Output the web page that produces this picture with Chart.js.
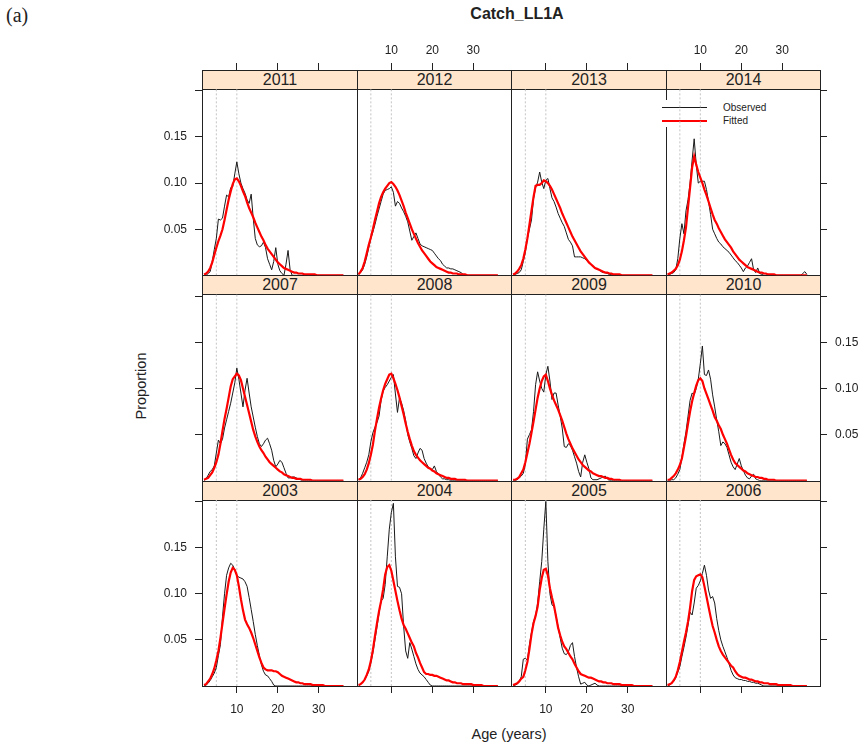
<!DOCTYPE html>
<html>
<head>
<meta charset="utf-8">
<title>Catch_LL1A</title>
<script src="https://cdn.jsdelivr.net/npm/chart.js@4.4.1/dist/chart.umd.min.js"></script>
<style>
  body { margin: 0; background: #fff; font-family: "Liberation Sans", Arial, sans-serif; color: #222; }
  #wrap { position: relative; width: 863px; height: 751px; overflow: hidden; }
  #deco { position: absolute; left: 0; top: 0; width: 863px; height: 751px; z-index: 1; }
  #lattice { position: absolute; left: 0; top: 0; z-index: 2; }
  .frame { position: absolute; box-sizing: border-box; border: 1px solid #222; }
  .strip { position: absolute; box-sizing: border-box; border: 1px solid #222; background: #ffe5cc;
           font-size: 16px; line-height: 18px; text-align: center; color: #222; }
  .txt { position: absolute; white-space: nowrap; }
  .legend { position: absolute; left: 658px; top: 100px; width: 110px; height: 27px; background: #fff; }
  .legend .key { position: absolute; left: 4px; width: 45px; }
  .legend .lab { position: absolute; left: 65px; font-size: 10px; line-height: 12px; color: #222; }
</style>
</head>
<body>
<div id="wrap">
  <div id="deco"></div>
  <canvas id="lattice" width="863" height="751"></canvas>
</div>
<script>
// ages (years), half-year steps
var ages = [2,2.5,3,3.5,4,4.5,5,5.5,6,6.5,7,7.5,8,8.5,9,9.5,10,10.5,11,11.5,12,12.5,13,13.5,14,14.5,15,15.5,16,16.5,17,17.5,18,18.5,19,19.5,20,20.5,21,21.5,22,22.5,23,23.5,24,24.5,25,25.5,26,26.5,27,27.5,28,28.5,29,29.5,30,30.5,31,31.5,32,32.5,33,33.5,34,34.5,35,35.5,36];

// panel layout, top row first (as in the lattice plot)
var yearRows = [
    ['2011', '2012', '2013', '2014'],
    ['2007', '2008', '2009', '2010'],
    ['2003', '2004', '2005', '2006']
];

var xTickValues = [10, 20, 30];
var yTickValues = [0.05, 0.10, 0.15, 0.20];
var refAges = [5, 10];

// observed proportions
var obs2011 = [0,0,0.002,0.004,0.015,0.028,0.040,0.061,0.060,0.062, 0.075,0.087,0.085,0.095,0.096,0.110,0.123,0.110,0.100,0.094, 0.089,0.082,0.078,0.088,0.062,0.040,0.033,0.031,0.032,0.036, 0.030,0.018,0.012,0.006,0.015,0.030,0.012,0.005,0.002,0, 0.012,0.027,0.006,0,0,0,0,0,0,0, 0,0,0,0,0,0,0,0,0,0, 0,0,0,0,0,0,0,0,0];
var obs2012 = [0.001,0.003,0.006,0.012,0.020,0.030,0.040,0.047,0.055,0.064, 0.072,0.080,0.088,0.092,0.093,0.094,0.096,0.090,0.075,0.080, 0.078,0.073,0.069,0.064,0.058,0.048,0.038,0.042,0.046,0.040, 0.034,0.032,0.031,0.030,0.029,0.028,0.027,0.024,0.021,0.018, 0.016,0.012,0.010,0.008,0.008,0.007,0.007,0.006,0.005,0.004, 0.003,0.001,0,0,0,0,0,0,0,0, 0,0,0,0,0,0,0,0,0];
var obs2013 = [0,0.001,0.002,0.003,0.006,0.015,0.025,0.040,0.050,0.060, 0.083,0.095,0.101,0.112,0.101,0.094,0.103,0.105,0.094,0.084, 0.080,0.074,0.067,0.062,0.057,0.053,0.046,0.039,0.036,0.032, 0.020,0.020,0.020,0.020,0.019,0.018,0.016,0.014,0.012,0.010, 0.008,0.007,0.006,0.004,0.003,0.003,0.002,0.001,0.001,0, 0,0,0,0,0,0,0,0,0,0, 0,0,0,0,0,0,0,0,0];
var obs2014 = [0,0.001,0.002,0.003,0.006,0.018,0.040,0.056,0.045,0.070, 0.082,0.100,0.125,0.148,0.120,0.100,0.102,0.102,0.102,0.093, 0.080,0.066,0.050,0.045,0.040,0.036,0.034,0.031,0.029,0.027, 0.025,0.022,0.019,0.016,0.014,0.011,0.008,0.004,0.008,0.010, 0.014,0.018,0.006,0.003,0.008,0.002,0.001,0,0,0, 0,0,0,0,0,0,0,0,0,0, 0,0,0,0,0,0,0.002,0.004,0.001];
var obs2007 = [0,0.002,0.006,0.010,0.012,0.016,0.030,0.044,0.040,0.045, 0.057,0.066,0.075,0.084,0.095,0.106,0.122,0.110,0.095,0.080, 0.098,0.111,0.095,0.080,0.069,0.058,0.048,0.040,0.037,0.040, 0.044,0.046,0.040,0.033,0.022,0.015,0.018,0.022,0.020,0.014, 0.008,0.003,0.003,0.004,0.004,0.003,0.002,0.001,0,0, 0,0,0,0,0,0,0,0,0,0, 0,0,0,0,0,0,0,0,0];
var obs2008 = [0.001,0.003,0.008,0.014,0.020,0.028,0.042,0.052,0.058,0.063, 0.070,0.087,0.097,0.101,0.104,0.108,0.112,0.115,0.094,0.074, 0.090,0.084,0.076,0.065,0.050,0.042,0.035,0.027,0.024,0.030, 0.035,0.033,0.024,0.019,0.015,0.013,0.012,0.016,0.010,0.007, 0.004,0.002,0.002,0.001,0.001,0,0,0,0,0, 0,0,0,0,0,0,0,0,0,0, 0,0,0,0,0,0,0,0,0];
var obs2009 = [0,0,0.001,0.003,0.005,0.008,0.018,0.045,0.050,0.055, 0.075,0.104,0.118,0.108,0.100,0.096,0.115,0.124,0.108,0.088, 0.095,0.095,0.082,0.070,0.057,0.037,0.036,0.040,0.038,0.033, 0.026,0.019,0.010,0.004,0.020,0.028,0.020,0.013,0.003,0.001, 0.001,0.001,0.002,0.003,0.004,0.005,0.002,0,0,0, 0,0,0,0,0,0,0,0,0,0, 0,0,0,0,0,0,0,0,0];
var obs2010 = [0,0,0.001,0.001,0.003,0.007,0.012,0.025,0.040,0.053, 0.070,0.087,0.095,0.093,0.100,0.110,0.127,0.146,0.115,0.114, 0.120,0.110,0.093,0.080,0.066,0.053,0.038,0.042,0.040,0.036, 0.028,0.020,0.015,0.012,0.018,0.024,0.016,0.011,0.006,0.003, 0.002,0.005,0.007,0.002,0.001,0,0,0,0,0, 0,0,0,0,0,0,0,0,0,0, 0,0,0,0,0,0,0,0,0];
var obs2003 = [0,0.001,0.003,0.006,0.010,0.014,0.020,0.033,0.045,0.075, 0.100,0.120,0.128,0.133,0.131,0.126,0.120,0.118,0.117,0.116, 0.113,0.108,0.096,0.083,0.070,0.056,0.044,0.033,0.023,0.016, 0.012,0.011,0.008,0.005,0.001,0,0,0,0,0, 0,0,0,0,0,0,0,0,0,0, 0,0,0,0,0,0,0,0,0,0, 0,0,0,0,0,0,0,0,0];
var obs2004 = [0,0.002,0.004,0.007,0.011,0.016,0.025,0.036,0.050,0.064, 0.079,0.092,0.095,0.110,0.140,0.170,0.188,0.198,0.140,0.108, 0.107,0.100,0.065,0.038,0.030,0.047,0.040,0.032,0.024,0.018, 0.014,0.012,0.010,0.007,0.004,0.001,0,0,0,0, 0,0,0,0,0,0,0,0,0,0, 0,0,0,0,0,0,0,0,0,0, 0,0,0,0,0,0,0,0,0];
var obs2005 = [0,0.001,0.002,0.005,0.010,0.029,0.030,0.028,0.045,0.058, 0.070,0.076,0.090,0.113,0.135,0.170,0.200,0.135,0.100,0.088, 0.086,0.076,0.064,0.052,0.041,0.035,0.034,0.037,0.044,0.047, 0.032,0.020,0.010,0.002,0.003,0.004,0.001,0,0.001,0.002, 0.003,0.001,0,0,0,0,0,0,0,0, 0,0,0,0,0,0,0,0,0,0, 0,0,0,0,0,0,0,0,0];
var obs2006 = [0,0.001,0.003,0.005,0.009,0.015,0.021,0.032,0.042,0.053, 0.066,0.080,0.077,0.090,0.106,0.109,0.114,0.122,0.131,0.120, 0.104,0.095,0.097,0.090,0.073,0.060,0.050,0.043,0.037,0.031, 0.024,0.017,0.012,0.009,0.008,0.007,0.007,0.006,0.006,0.005, 0.005,0.004,0.004,0.003,0.003,0.002,0.001,0,0,0, 0,0,0,0,0,0,0,0,0,0, 0,0,0,0,0,0,0,0,0];

// fitted proportions
var fit2011 = [0.001,0.002,0.004,0.008,0.014,0.022,0.030,0.037,0.043,0.050, 0.060,0.071,0.082,0.091,0.099,0.104,0.105,0.102,0.097,0.091, 0.086,0.079,0.073,0.068,0.063,0.057,0.052,0.047,0.042,0.038, 0.033,0.029,0.026,0.023,0.020,0.017,0.014,0.012,0.010,0.008, 0.007,0.006,0.005,0.004,0.003,0.003,0.002,0.002,0.002,0.001, 0.001,0.001,0.001,0.001,0.001,0,0,0,0,0, 0,0,0,0,0,0,0,0,0];
var fit2012 = [0.001,0.004,0.008,0.015,0.024,0.033,0.041,0.050,0.060,0.069, 0.078,0.085,0.090,0.094,0.097,0.100,0.101,0.099,0.096,0.092, 0.087,0.081,0.075,0.068,0.062,0.056,0.050,0.045,0.040,0.035, 0.031,0.027,0.024,0.021,0.018,0.015,0.013,0.011,0.009,0.008, 0.007,0.006,0.005,0.004,0.003,0.003,0.002,0.002,0.002,0.001, 0.001,0.001,0.001,0,0,0,0,0,0,0, 0,0,0,0,0,0,0,0,0];
var fit2013 = [0.001,0.002,0.004,0.007,0.011,0.018,0.028,0.040,0.055,0.070, 0.085,0.097,0.098,0.098,0.100,0.103,0.102,0.100,0.097,0.093, 0.088,0.083,0.078,0.073,0.067,0.062,0.057,0.052,0.047,0.042, 0.038,0.034,0.030,0.026,0.023,0.020,0.017,0.014,0.012,0.010, 0.008,0.007,0.006,0.005,0.004,0.003,0.003,0.002,0.002,0.001, 0.001,0.001,0.001,0,0,0,0,0,0,0, 0,0,0,0,0,0,0,0,0];
var fit2014 = [0.001,0.002,0.003,0.005,0.007,0.011,0.017,0.026,0.038,0.052, 0.074,0.095,0.117,0.129,0.120,0.112,0.106,0.100,0.093,0.087, 0.080,0.073,0.066,0.060,0.056,0.051,0.047,0.043,0.039,0.036, 0.033,0.030,0.026,0.023,0.020,0.017,0.015,0.013,0.011,0.009, 0.008,0.007,0.006,0.005,0.004,0.003,0.003,0.002,0.002,0.001, 0.001,0.001,0.001,0,0,0,0,0,0,0, 0,0,0,0,0,0,0,0,0];
var fit2007 = [0.001,0.002,0.003,0.006,0.009,0.014,0.020,0.028,0.040,0.054, 0.067,0.078,0.090,0.102,0.110,0.113,0.116,0.114,0.109,0.100, 0.091,0.082,0.073,0.064,0.055,0.048,0.042,0.037,0.033,0.030, 0.026,0.023,0.020,0.018,0.016,0.014,0.012,0.010,0.009,0.007, 0.006,0.005,0.004,0.003,0.003,0.002,0.002,0.002,0.001,0.001, 0.001,0.001,0.001,0,0,0,0,0,0,0, 0,0,0,0,0,0,0,0,0];
var fit2008 = [0.001,0.002,0.004,0.007,0.012,0.019,0.028,0.039,0.054,0.067, 0.079,0.089,0.098,0.105,0.110,0.115,0.116,0.111,0.105,0.098, 0.090,0.081,0.072,0.062,0.053,0.045,0.038,0.032,0.028,0.025, 0.022,0.020,0.018,0.016,0.014,0.013,0.011,0.010,0.008,0.007, 0.006,0.005,0.004,0.003,0.003,0.002,0.002,0.002,0.001,0.001, 0.001,0.001,0.001,0,0,0,0,0,0,0, 0,0,0,0,0,0,0,0,0];
var fit2009 = [0.001,0.001,0.002,0.004,0.008,0.012,0.020,0.030,0.040,0.052, 0.064,0.077,0.090,0.100,0.108,0.113,0.115,0.108,0.100,0.093, 0.087,0.082,0.077,0.071,0.065,0.058,0.051,0.045,0.040,0.035, 0.031,0.027,0.023,0.020,0.017,0.015,0.013,0.011,0.010,0.008, 0.007,0.006,0.005,0.005,0.004,0.003,0.003,0.002,0.002,0.001, 0.001,0.001,0.001,0,0,0,0,0,0,0, 0,0,0,0,0,0,0,0,0];
var fit2010 = [0.001,0.001,0.003,0.005,0.008,0.012,0.017,0.024,0.036,0.048, 0.062,0.075,0.086,0.095,0.103,0.109,0.111,0.108,0.100,0.094, 0.088,0.082,0.076,0.069,0.065,0.060,0.056,0.050,0.045,0.040, 0.034,0.028,0.023,0.019,0.017,0.015,0.013,0.011,0.010,0.008, 0.007,0.006,0.005,0.004,0.004,0.003,0.003,0.002,0.002,0.001, 0.001,0.001,0.001,0,0,0,0,0,0,0, 0,0,0,0,0,0,0,0,0];
var fit2003 = [0.001,0.002,0.005,0.008,0.013,0.019,0.028,0.038,0.052,0.068, 0.084,0.099,0.113,0.123,0.128,0.126,0.120,0.108,0.094,0.082, 0.072,0.067,0.063,0.058,0.052,0.045,0.038,0.031,0.025,0.020, 0.018,0.017,0.017,0.017,0.016,0.016,0.015,0.013,0.011,0.010, 0.009,0.008,0.007,0.006,0.005,0.004,0.004,0.003,0.003,0.002, 0.002,0.002,0.002,0.001,0.001,0.001,0.001,0.001,0.001,0, 0,0,0,0,0,0,0,0,0];
var fit2004 = [0.001,0.002,0.004,0.007,0.012,0.018,0.027,0.039,0.054,0.068, 0.081,0.092,0.105,0.121,0.129,0.131,0.125,0.114,0.103,0.092, 0.082,0.073,0.066,0.062,0.057,0.052,0.047,0.043,0.036,0.031, 0.025,0.020,0.015,0.013,0.013,0.012,0.012,0.011,0.011,0.010, 0.009,0.008,0.007,0.006,0.006,0.005,0.004,0.004,0.003,0.003, 0.003,0.002,0.002,0.002,0.002,0.002,0.001,0.001,0.001,0.001, 0.001,0,0,0,0,0,0,0,0];
var fit2005 = [0.001,0.002,0.003,0.005,0.008,0.010,0.017,0.026,0.040,0.056, 0.068,0.076,0.086,0.104,0.117,0.126,0.127,0.120,0.106,0.096, 0.087,0.075,0.063,0.055,0.048,0.043,0.040,0.036,0.032,0.029, 0.024,0.020,0.016,0.013,0.012,0.011,0.010,0.009,0.009,0.008, 0.007,0.006,0.005,0.005,0.004,0.004,0.003,0.003,0.003,0.002, 0.002,0.002,0.002,0.001,0.001,0.001,0.001,0.001,0.001,0, 0,0,0,0,0,0,0,0,0];
var fit2006 = [0.001,0.002,0.003,0.006,0.010,0.017,0.026,0.037,0.048,0.058, 0.070,0.085,0.103,0.115,0.119,0.120,0.121,0.118,0.108,0.097, 0.086,0.075,0.065,0.058,0.050,0.043,0.038,0.034,0.031,0.028, 0.025,0.022,0.020,0.016,0.013,0.011,0.010,0.009,0.009,0.008, 0.007,0.007,0.006,0.005,0.005,0.004,0.004,0.003,0.003,0.003, 0.002,0.002,0.002,0.002,0.001,0.001,0.001,0.001,0.001,0.001, 0.001,0,0,0,0,0,0,0,0];

var observed = {
    '2003': obs2003, '2004': obs2004, '2005': obs2005, '2006': obs2006,
    '2007': obs2007, '2008': obs2008, '2009': obs2009, '2010': obs2010,
    '2011': obs2011, '2012': obs2012, '2013': obs2013, '2014': obs2014
};
var fitted = {
    '2003': fit2003, '2004': fit2004, '2005': fit2005, '2006': fit2006,
    '2007': fit2007, '2008': fit2008, '2009': fit2009, '2010': fit2010,
    '2011': fit2011, '2012': fit2012, '2013': fit2013, '2014': fit2014
};

// axis limits
var xMin = 1.5, xMax = 39.2;
var yPlotTop = 0.202;

// page geometry
var area = { left: 202, top: 70, right: 820, bottom: 686 };
var stripH = 19;
var nCols = 4, nRows = 3;
var colW = (area.right - area.left) / nCols;
var rowH = (area.bottom - area.top) / nRows;
// each row's y axis also covers its strip, the strip sits above yPlotTop
var yMax = yPlotTop * rowH / (rowH - stripH);

var fontFamily = "'Liberation Sans', Arial, sans-serif";
var tickFont = { family: fontFamily, size: 12 };
var inkColor = '#222';

function points(values) {
    return ages.map(function (a, i) { return { x: a, y: values[i] }; });
}

// ---- datasets ----
var datasets = [];
yearRows.forEach(function (years, r) {
    years.forEach(function (yr, c) {
        datasets.push({
            label: 'Fitted ' + yr,
            data: points(fitted[yr]),
            xAxisID: 'xb' + c, yAxisID: 'yl' + r,
            borderColor: '#ff0000', borderWidth: 2.2,
            pointRadius: 0, fill: false, tension: 0, order: 0
        });
        datasets.push({
            label: 'Observed ' + yr,
            data: points(observed[yr]),
            xAxisID: 'xb' + c, yAxisID: 'yl' + r,
            borderColor: '#1a1a1a', borderWidth: 1,
            pointRadius: 0, fill: false, tension: 0, order: 1
        });
        refAges.forEach(function (a) {
            datasets.push({
                label: 'ref',
                data: [{ x: a, y: 0 }, { x: a, y: yPlotTop }],
                xAxisID: 'xb' + c, yAxisID: 'yl' + r,
                borderColor: '#c4c4c4', borderWidth: 1, borderDash: [2, 2],
                pointRadius: 0, fill: false, order: 2
            });
        });
    });
});

// ---- scales: lattice style alternating axes ----
function tickGrid() {
    return { drawOnChartArea: false, drawTicks: true, tickLength: 7, color: inkColor, lineWidth: 1 };
}
var scales = {};
for (var c = 0; c < nCols; c++) {
    (function (c) {
        scales['xb' + c] = {
            type: 'linear', position: 'bottom', stack: 'cols', stackWeight: 1, weight: c,
            min: xMin, max: xMax,
            grid: tickGrid(), border: { display: false },
            ticks: {
                font: tickFont, color: inkColor, padding: 9, maxRotation: 0, autoSkip: false,
                callback: function (v) { return c % 2 === 0 ? String(v) : ''; }
            },
            afterBuildTicks: function (s) { s.ticks = xTickValues.map(function (v) { return { value: v }; }); },
            afterFit: function (s) { s.height = 40; }
        };
        scales['xt' + c] = {
            type: 'linear', position: 'top', stack: 'cols', stackWeight: 1, weight: nCols - c,
            min: xMin, max: xMax,
            grid: tickGrid(), border: { display: false },
            ticks: {
                font: tickFont, color: inkColor, padding: 5, maxRotation: 0, autoSkip: false,
                callback: function (v) { return c % 2 === 1 ? String(v) : ''; }
            },
            afterBuildTicks: function (s) { s.ticks = xTickValues.map(function (v) { return { value: v }; }); },
            afterFit: function (s) { s.height = 40; }
        };
    })(c);
}
for (var r = 0; r < nRows; r++) {
    (function (r) {
        scales['yl' + r] = {
            type: 'linear', position: 'left', stack: 'rows', stackWeight: 1, weight: nRows - r,
            min: 0, max: yMax,
            grid: tickGrid(), border: { display: false },
            ticks: {
                font: tickFont, color: inkColor, padding: 8, autoSkip: false,
                callback: function (v) { return (r !== 1 && v < 0.19) ? v.toFixed(2) : ''; }
            },
            afterBuildTicks: function (s) { s.ticks = yTickValues.map(function (v) { return { value: v }; }); },
            afterFit: function (s) { s.width = 60; }
        };
        scales['yr' + r] = {
            type: 'linear', position: 'right', stack: 'rows', stackWeight: 1, weight: r,
            min: 0, max: yMax,
            grid: tickGrid(), border: { display: false },
            ticks: {
                font: tickFont, color: inkColor, padding: 8, autoSkip: false,
                callback: function (v) { return (r === 1 && v < 0.19) ? v.toFixed(2) : ''; }
            },
            afterBuildTicks: function (s) { s.ticks = yTickValues.map(function (v) { return { value: v }; }); },
            afterFit: function (s) { s.width = 40; }
        };
    })(r);
}

var ctx = document.getElementById('lattice').getContext('2d');
var chart = new Chart(ctx, {
    type: 'line',
    data: { datasets: datasets },
    options: {
        responsive: false,
        animation: false,
        devicePixelRatio: 1,
        parsing: false,
        layout: { padding: { left: area.left - 60, right: 863 - area.right - 40, top: area.top - 40, bottom: 751 - area.bottom - 40 } },
        plugins: { legend: { display: false }, tooltip: { enabled: false }, title: { display: false } },
        scales: scales
    }
});

// ---- panel frames, strips, texts ----
var deco = document.getElementById('deco');
function addDiv(cls, css, text) {
    var d = document.createElement('div');
    d.className = cls;
    for (var k in css) d.style[k] = css[k];
    if (text !== undefined) d.textContent = text;
    deco.appendChild(d);
    return d;
}
yearRows.forEach(function (years, r) {
    years.forEach(function (yr, c) {
        var x0 = Math.round(area.left + c * colW), x1 = Math.round(area.left + (c + 1) * colW);
        var y0 = Math.round(area.top + r * rowH), y1 = Math.round(area.top + (r + 1) * rowH);
        addDiv('frame', { left: x0 + 'px', top: y0 + 'px', width: (x1 - x0 + 1) + 'px', height: (y1 - y0 + 1) + 'px' });
        addDiv('strip', { left: x0 + 'px', top: y0 + 'px', width: (x1 - x0 + 1) + 'px', height: (stripH + 1) + 'px' }, yr);
    });
});

addDiv('txt', { left: '6px', top: '4px', fontFamily: "'Liberation Serif', 'Times New Roman', serif", fontSize: '20px' }, '(a)');
addDiv('txt', { left: '517px', top: '5px', fontWeight: 'bold', fontSize: '16px', transform: 'translateX(-50%)' }, 'Catch_LL1A');
addDiv('txt', { left: '509px', top: '726px', fontSize: '14.5px', color: '#222', transform: 'translateX(-50%)' }, 'Age (years)');
addDiv('txt', { left: '141px', top: '386px', fontSize: '14.5px', color: '#222', transform: 'translate(-50%, -50%) rotate(-90deg)' }, 'Proportion');

// legend inside the 2014 panel
var leg = addDiv('legend', {});
var k1 = document.createElement('div'); k1.className = 'key';
k1.style.top = '7px'; k1.style.borderTop = '1px solid #1a1a1a'; leg.appendChild(k1);
var k2 = document.createElement('div'); k2.className = 'key';
k2.style.top = '20px'; k2.style.borderTop = '2px solid #ff0000'; leg.appendChild(k2);
var l1 = document.createElement('div'); l1.className = 'lab'; l1.style.top = '2px'; l1.textContent = 'Observed'; leg.appendChild(l1);
var l2 = document.createElement('div'); l2.className = 'lab'; l2.style.top = '15px'; l2.textContent = 'Fitted'; leg.appendChild(l2);
</script>
</body>
</html>
